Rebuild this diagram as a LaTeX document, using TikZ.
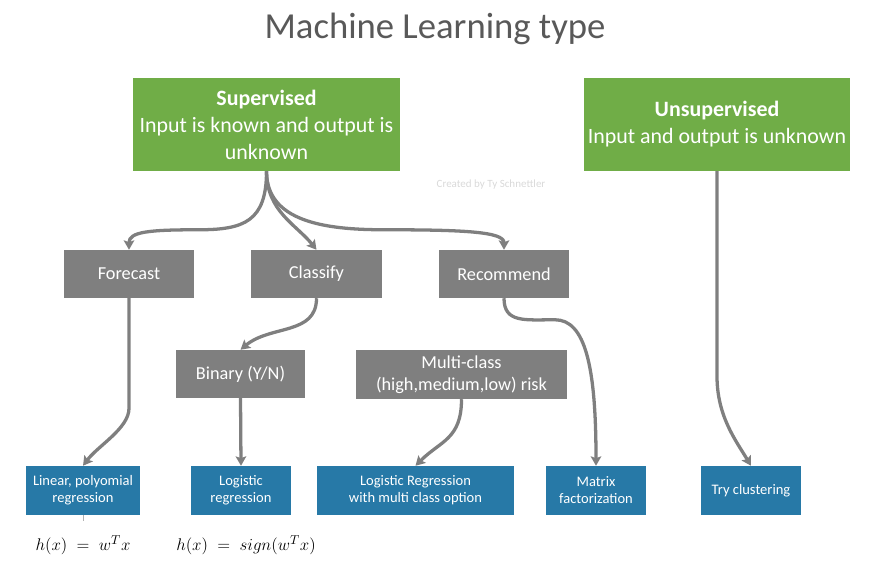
\documentclass[tikz,border=0pt]{standalone}
\usepackage{fontspec}
\setmainfont{Carlito}
\usetikzlibrary{arrows.meta, calc}

\definecolor{mlgreen}{HTML}{70AD47}
\definecolor{mlgray}{HTML}{7F7F7F}
\definecolor{mlblue}{HTML}{2779A7}
\definecolor{mltitle}{HTML}{595959}
\definecolor{mlmark}{HTML}{D9D9D9}

\begin{document}
\begin{tikzpicture}[
  x=0.03cm, y=-0.03cm,
  % --- box styles ---
  greenbox/.style={
    fill=mlgreen, text=white, align=center, inner sep=0pt,
    minimum height=2.79cm, font=\fontsize{18.7}{23}\selectfont,
  },
  graybox/.style={
    fill=mlgray, text=white, align=center, inner sep=0pt,
    minimum height=1.44cm, font=\fontsize{15.6}{18.8}\selectfont,
  },
  bluebox/.style={
    fill=mlblue, text=white, align=center, inner sep=0pt,
    minimum height=1.47cm, font=\fontsize{12.4}{14.5}\selectfont,
  },
  arr/.style={-{Stealth[length=8pt, width=9pt, inset=1.5pt]},
    line width=2.8pt, draw=mlgray},
  formula/.style={font=\fontsize{15}{18}\selectfont},
]

\useasboundingbox (0,0) rectangle (877,573);

% ---------- Title ----------
\node[text=mltitle, font=\fontsize{31.3}{36}\selectfont] (title) at (435,29)
  {Machine Learning type};

% ---------- Row 1: learning kinds ----------
\node[greenbox, minimum width=8.01cm] (sup) at (266.5,124.5)
  {\textbf{Supervised}\\Input is known and output is\\unknown};
\node[greenbox, minimum width=7.98cm] (unsup) at (717,124.5)
  {\textbf{Unsupervised}\\Input and output is unknown};

\node[text=mlmark, font=\fontsize{9.4}{11}\selectfont] (mark) at (491,185)
  {Created by Ty Schnettler};

% ---------- Row 2: tasks ----------
\node[graybox, minimum width=3.9cm] (forecast) at (129,274) {Forecast};
\node[graybox, minimum width=3.93cm] (classify) at (316.5,274) {Classify};
\node[graybox, minimum width=3.9cm] (recommend) at (504,274) {Recommend};

% ---------- Row 3: class kinds ----------
\node[graybox, minimum width=3.87cm] (binary) at (240.5,374) {Binary (Y/N)};
\node[graybox, minimum width=6.33cm, minimum height=1.47cm] (multi)
  at (461.5,374.5) {Multi-class\\(high,medium,low) risk};

% ---------- Row 4: methods ----------
\node[bluebox, minimum width=3.42cm] (linear) at (83,490.5)
  {Linear, polyomial\\regression};
\node[bluebox, minimum width=3cm] (logistic) at (241,490.5)
  {Logistic\\regression};
\node[bluebox, minimum width=5.91cm] (logmulti) at (415.5,490.5)
  {Logistic Regression\\with multi class option};
\node[bluebox, minimum width=3cm] (matrix) at (596,490.5)
  {Matrix\\factorization};
\node[bluebox, minimum width=3cm] (cluster) at (751,490.5)
  {Try clustering};

% ---------- Formulas ----------
\node[formula] (linf) at (83,545) {$h(x)\;=\;w^Tx$};
\node[formula] (logf) at (246,545) {$h(x)\;=\;sign(w^Tx)$};

% Fan-out from Supervised
\draw[arr] (sup.south) .. controls +(0,50) and +(45,0)
  .. ($(forecast.north)+(70,-20)$)
  .. controls +(-50,0) and +(0,-18) .. (forecast.north);
\draw[arr] (sup.south) .. controls +(0,40) and +(-20,-25) .. (classify.north);
\draw[arr] (sup.south) .. controls +(0,50) and +(-60,0)
  .. ($(recommend.north)+(-120,-20)$)
  .. controls +(80,0) and +(0,-18) .. (recommend.north);

% Tasks down to methods
\draw[arr] (forecast.south) -- ++(0,110)
  .. controls +(0,20) and +(15,-20) .. (linear.north);
\draw[arr] (classify.south) .. controls +(0,37) and +(30,-25) .. (binary.north);
\draw[arr] (binary.south) -- (logistic.north);
\draw[arr] (multi.south) .. controls +(0,40) and +(25,-25) .. (logmulti.north);
\draw[arr] (recommend.south) .. controls +(0,25) and +(-30,0)
  .. ($(matrix.north)+(-41,-146)$)
  .. controls +(30,0) and +(0,-100) .. (matrix.north);
\draw[arr] (unsup.south) -- ++(0,205)
  .. controls +(0,40) and +(-15,-25) .. (cluster.north);

% small tick under the linear box
\coordinate (tick) at ($(linear.south)+(0,6)$);
\draw[mlgray!60, line width=0.4pt] (linear.south) -- (tick);

\end{tikzpicture}
\end{document}
